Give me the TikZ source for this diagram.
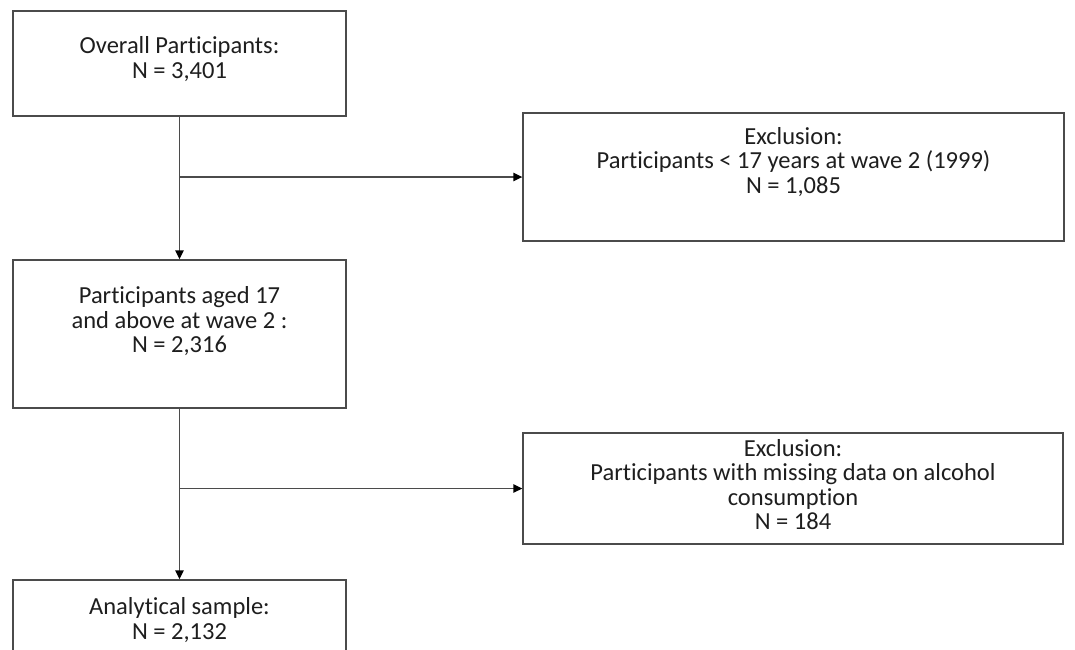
\documentclass[tikz,border=0pt]{standalone}
\usepackage{fontspec}
\setmainfont{Carlito}[Ligatures={NoCommon}]
\usetikzlibrary{arrows.meta}
\definecolor{linec}{RGB}{75,75,75}
\definecolor{textc}{RGB}{30,30,30}
\begin{document}
\begin{tikzpicture}[x=1pt,y=-1pt,
  box/.style={draw=linec, line width=1.4pt, inner sep=0pt},
  txt/.style={align=center, font=\fontsize{24.5}{24.5}\selectfont, text=textc, inner sep=0pt},
  conn/.style={draw=linec, line width=1.4pt},
  arr/.style={conn, -{Triangle[length=9pt,width=8.5pt,color=black]}}]
\useasboundingbox (0,0) rectangle (1075,649);
\clip (0,0) rectangle (1075,649);
\fill[white] (0,0) rectangle (1075,649);
% boxes
\node[box, minimum width=333pt, minimum height=105pt] (b1) at (179.5,63.5) {};
\node[box, minimum width=541pt, minimum height=128pt] (b2) at (793.5,177) {};
\node[box, minimum width=333pt, minimum height=148pt] (b3) at (179.5,334) {};
\node[box, minimum width=540pt, minimum height=111pt] (b4) at (793,488.5) {};
\node[box, minimum width=333pt, minimum height=80pt] (b5) at (179.5,620) {};
% texts
\node[txt] (t1) at (179.5,59) {Overall Participants:\\N = 3,401};
\node[txt] (t2) at (793.5,162) {Exclusion:\\Participants < 17 years at wave 2 (1999)\\N = 1,085};
\node[txt] (t3) at (179.5,321.5) {Participants aged 17\\and above at wave 2 :\\N = 2,316};
\node[txt] (t4) at (793,484.5) {Exclusion:\\Participants with missing data on alcohol\\consumption\\N = 184};
\node[txt] (t5) at (179.5,620) {Analytical sample:\\N = 2,132};
% connectors
\draw[arr] (b1.south) -- (b3.north);
\coordinate (j1) at (b2.west -| b1.south);
\draw[arr] (j1) -- (b2.west);
\draw[arr] (b3.south) -- (b5.north);
\coordinate (j2) at (b4.west -| b3.south);
\draw[arr] (j2) -- (b4.west);
\end{tikzpicture}
\end{document}
